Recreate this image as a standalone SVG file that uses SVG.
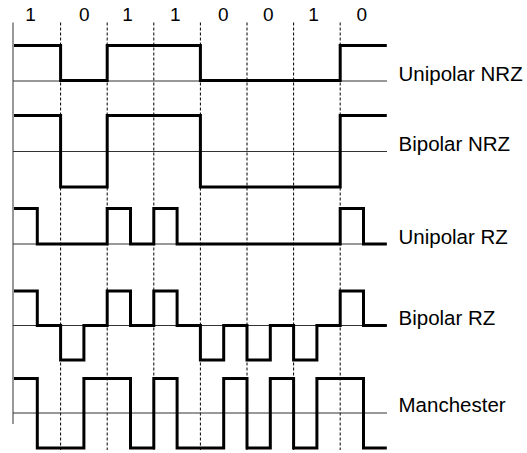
<svg xmlns="http://www.w3.org/2000/svg" width="527" height="453" viewBox="0 0 527 453">
<style>
.bg{fill:#fff}
.sig{fill:none;stroke:#000;stroke-width:3;stroke-linejoin:miter;stroke-linecap:butt}
.base{fill:none;stroke:#333;stroke-width:1}
.grid{fill:none;stroke:#000;stroke-width:1;stroke-dasharray:3,2}
.bit{font-family:"Liberation Sans",Arial,sans-serif;font-size:19px;fill:#000;text-anchor:middle}
.lbl{font-family:"Liberation Sans",Arial,sans-serif;font-size:20.5px;fill:#000}
</style>
<rect class="bg" x="0" y="0" width="527" height="453"/>
<g id="connectors">
<line class="grid" x1="60.6" y1="22.5" x2="60.6" y2="450"/>
<line class="grid" x1="107.2" y1="22.5" x2="107.2" y2="450"/>
<line class="grid" x1="153.8" y1="22.5" x2="153.8" y2="450"/>
<line class="grid" x1="200.4" y1="22.5" x2="200.4" y2="450"/>
<line class="grid" x1="247" y1="22.5" x2="247" y2="450"/>
<line class="grid" x1="293.6" y1="22.5" x2="293.6" y2="450"/>
<line class="grid" x1="340.2" y1="22.5" x2="340.2" y2="450"/>
<line class="base" x1="13" y1="22.5" x2="13" y2="424"/>
</g>
<g id="bits">
<text class="bit" x="30.5" y="21">1</text>
<text class="bit" x="84.3" y="21">0</text>
<text class="bit" x="127.5" y="21">1</text>
<text class="bit" x="175.2" y="21">1</text>
<text class="bit" x="223.3" y="21">0</text>
<text class="bit" x="268.3" y="21">0</text>
<text class="bit" x="313.5" y="21">1</text>
<text class="bit" x="361.7" y="21">0</text>
</g>
<g id="unipolar-nrz">
<line class="base" x1="13" y1="81" x2="387" y2="81"/>
<path class="sig" d="M14,45.5 H60.6 V80.5 H107.2 V45.5 H200.4 V80.5 H340.2 V45.5 H386.8"/>
<text class="lbl" x="398.5" y="80.5">Unipolar NRZ</text>
</g>
<g id="bipolar-nrz">
<line class="base" x1="13" y1="151.5" x2="387" y2="151.5"/>
<path class="sig" d="M14,115.5 H60.6 V187 H107.2 V115.5 H200.4 V187 H340.2 V115.5 H386.8"/>
<text class="lbl" x="398.5" y="150.5">Bipolar NRZ</text>
</g>
<g id="unipolar-rz">
<line class="base" x1="13" y1="244" x2="387" y2="244"/>
<path class="sig" d="M14,208.5 H37.3 V244 H107.2 V208.5 H130.5 V244 H153.8 V208.5 H177.1 V244 H340.2 V208.5 H363.5 V244 H386.8"/>
<text class="lbl" x="398.5" y="243.5">Unipolar RZ</text>
</g>
<g id="bipolar-rz">
<line class="base" x1="13" y1="325.5" x2="387" y2="325.5"/>
<path class="sig" d="M14,291 H37.3 V325.5 H60.6 V360 H83.9 V325.5 H107.2 V291 H130.5 V325.5 H153.8 V291 H177.1 V325.5 H200.4 V360 H223.7 V325.5 H247 V360 H270.3 V325.5 H293.6 V360 H316.9 V325.5 H340.2 V291 H363.5 V325.5 H386.8"/>
<text class="lbl" x="398.5" y="324.5">Bipolar RZ</text>
</g>
<g id="manchester">
<line class="base" x1="13" y1="413" x2="387" y2="413"/>
<path class="sig" d="M14,378.5 H37.3 V448 H83.9 V378.5 H130.5 V448 H153.8 V378.5 H177.1 V448 H223.7 V378.5 H247 V448 H270.3 V378.5 H293.6 V448 H316.9 V378.5 H363.5 V448 H386.8"/>
<text class="lbl" x="398.5" y="411.5">Manchester</text>
</g>
</svg>
